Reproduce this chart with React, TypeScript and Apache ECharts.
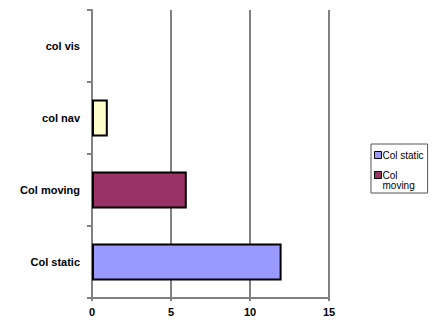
import React, { useEffect, useRef } from "react";
import * as echarts from "echarts";

const categories = ["Col static", "Col moving", "col nav", "col vis"];
const values = [12, 6, 1, 0];
const colors = ["#9999FF", "#993366", "#FFFFCC", "#CCFFFF"];
const legendNames = ["Col static", "Col moving"];
const xTicks = [0, 5, 10, 15];

export default function App() {
  const ref = useRef<HTMLDivElement>(null);

  useEffect(() => {
    if (!ref.current) return;
    const chart = echarts.init(ref.current, undefined, { renderer: "svg" });

    // one stacked series per category, so each bar keeps its own colour and legend entry
    const series = categories.map((name, i) => ({
      name,
      type: "bar" as const,
      stack: "all",
      barWidth: 37,
      data: categories.map((_, j) => (j === i ? values[i] : "-")),
      itemStyle: {
        color: colors[i],
        borderColor: "#000",
        // a zero-length bar leaves no outline behind
        borderWidth: values[i] === 0 ? 0 : 2,
      },
    }));

    chart.setOption({
      animation: false,
      textStyle: { fontFamily: "Arial, 'Liberation Sans', sans-serif" },
      grid: { left: 92, right: 110, top: 10, bottom: 26, containLabel: false },
      xAxis: {
        type: "value",
        min: xTicks[0],
        max: xTicks[xTicks.length - 1],
        interval: 5,
        axisLine: { show: true, lineStyle: { color: "#808080", width: 2 } },
        axisTick: { show: true, length: 3, lineStyle: { color: "#808080", width: 2 } },
        splitLine: { show: true, lineStyle: { color: "#808080", width: 2 } },
        axisLabel: { color: "#000", fontSize: 11, fontWeight: "bold", margin: 8 },
      },
      yAxis: {
        type: "category",
        data: categories,
        axisLine: { show: true, lineStyle: { color: "#808080", width: 2 } },
        axisTick: { show: true, length: 5, lineStyle: { color: "#808080", width: 2 } },
        axisLabel: { color: "#000", fontSize: 11, fontWeight: "bold", margin: 12 },
      },
      legend: {
        data: legendNames,
        orient: "vertical",
        left: 371,
        top: 144,
        width: 61,
        padding: [6, 4, 3, 3],
        itemWidth: 7,
        itemHeight: 7,
        itemGap: 0,
        borderColor: "#555",
        borderWidth: 1,
        icon: "rect",
        itemStyle: { borderColor: "#000", borderWidth: 1 },
        textStyle: { fontSize: 10, color: "#000", padding: [0, 0, 0, -4], lineHeight: 10 },
        // the wrapped entry gets an empty first line so the swatch sits beside "Col"
        formatter: (name: string) => (name === "Col moving" ? "\nCol\nmoving" : name),
      },
      series,
    });

    return () => chart.dispose();
  }, []);

  return <div ref={ref} style={{ width: 439, height: 324, position: "absolute", left: 0, top: 0 }} />;
}
